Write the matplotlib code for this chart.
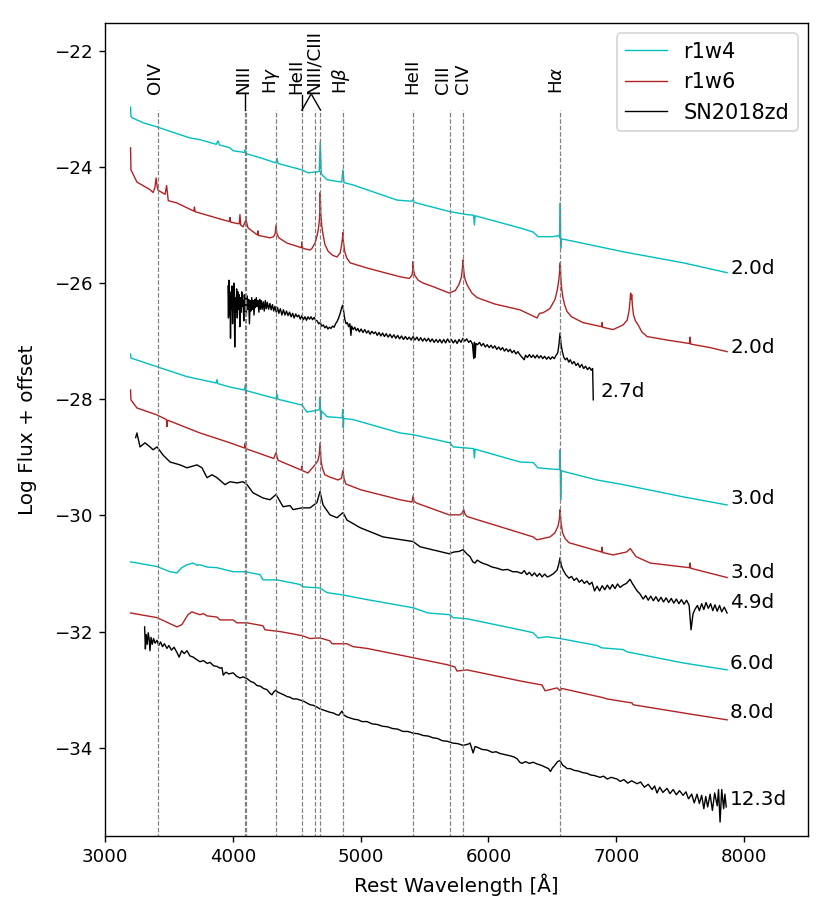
import matplotlib
matplotlib.use('Agg')
import matplotlib.pyplot as plt

# r1w4 model, 2.0 d
wl_r1w4_2d = [3200, 3203, 3210, 3300, 3407, 3500, 3665, 3743, 3870, 3884, 3895, 3978, 4002, 4090, 4097, 4104,
              4213, 4338, 4346, 4354, 4541, 4588, 4676, 4684, 4692, 4737, 4852, 4861, 4870, 4941, 5285, 5400,
              5410, 5420, 5700, 5833, 5884, 5890, 5896, 6247, 6349, 6388, 6505, 6550, 6558, 6562, 6565, 6570,
              6600, 7053, 7523, 7867]
fl_r1w4_2d = [-22.97, -23.13, -23.15, -23.24, -23.31, -23.38, -23.50, -23.53, -23.61, -23.55, -23.62, -23.67, -23.72, -23.75, -23.70, -23.77,
              -23.84, -23.93, -23.85, -23.94, -24.05, -24.10, -24.08, -23.57, -24.12, -24.22, -24.26, -24.05, -24.27, -24.31, -24.57, -24.59,
              -24.56, -24.61, -24.77, -24.82, -24.83, -25.00, -24.84, -25.05, -25.12, -25.20, -25.20, -25.18, -25.22, -24.62, -25.40, -25.24,
              -25.25, -25.46, -25.65, -25.82]

# r1w6 model, 2.0 d
wl_r1w6_2d = [3200, 3203, 3250, 3352, 3376, 3390, 3400, 3408, 3415, 3470, 3482, 3495, 3563, 3695, 3700, 3705,
              3876, 3973, 3978, 3983, 4050, 4056, 4062, 4080, 4103, 4119, 4192, 4197, 4202, 4291, 4320, 4332,
              4338, 4344, 4360, 4424, 4536, 4541, 4546, 4604, 4620, 4643, 4655, 4667, 4676, 4681, 4684, 4688,
              4695, 4705, 4720, 4745, 4780, 4815, 4840, 4853, 4859, 4862, 4866, 4875, 4890, 4917, 5050, 5308,
              5380, 5402, 5407, 5410, 5414, 5425, 5450, 5490, 5566, 5692, 5740, 5770, 5788, 5796, 5801, 5806,
              5815, 5833, 5870, 5911, 6050, 6247, 6380, 6400, 6427, 6480, 6521, 6540, 6552, 6558, 6562, 6566,
              6572, 6582, 6595, 6615, 6650, 6740, 6884, 6889, 6894, 6975, 7053, 7085, 7100, 7108, 7112, 7116,
              7121, 7126, 7135, 7150, 7171, 7200, 7241, 7397, 7572, 7577, 7582, 7734, 7867]
fl_r1w6_2d = [-23.67, -24.05, -24.26, -24.39, -24.44, -24.36, -24.19, -24.33, -24.40, -24.47, -24.32, -24.58, -24.62, -24.76, -24.69, -24.77,
              -24.88, -24.94, -24.87, -24.95, -24.98, -24.82, -25.00, -25.03, -24.91, -25.05, -25.17, -25.10, -25.18, -25.22, -25.20, -25.14,
              -25.00, -25.14, -25.22, -25.31, -25.39, -25.29, -25.40, -25.43, -25.40, -25.31, -25.22, -25.10, -24.95, -24.75, -24.44, -24.80,
              -25.00, -25.15, -25.33, -25.45, -25.52, -25.55, -25.48, -25.32, -25.20, -25.13, -25.30, -25.45, -25.56, -25.65, -25.74, -25.89,
              -25.92, -25.86, -25.78, -25.63, -25.78, -25.87, -25.95, -26.00, -26.06, -26.17, -26.13, -26.02, -25.90, -25.75, -25.60, -25.78,
              -25.92, -26.03, -26.17, -26.25, -26.36, -26.46, -26.60, -26.52, -26.51, -26.44, -26.28, -26.10, -25.92, -25.75, -25.65, -25.90,
              -26.08, -26.24, -26.37, -26.49, -26.58, -26.68, -26.75, -26.68, -26.76, -26.80, -26.72, -26.64, -26.48, -26.30, -26.17, -26.28,
              -26.20, -26.38, -26.55, -26.65, -26.72, -26.84, -26.92, -26.98, -27.04, -26.93, -27.05, -27.11, -27.18]

# SN2018zd, 2.7 d
wl_zd_27 = [3962, 3966, 3970, 3974, 3978, 3982, 3986, 3990, 3994, 3998, 4002, 4006, 4010, 4015, 4020, 4025,
            4030, 4035, 4040, 4046, 4050, 4055, 4060, 4066, 4070, 4076, 4080, 4086, 4090, 4096, 4100, 4106,
            4112, 4118, 4124, 4130, 4136, 4142, 4148, 4154, 4160, 4166, 4172, 4178, 4184, 4190, 4196, 4204,
            4210, 4216, 4222, 4230, 4238, 4246, 4254, 4262, 4270, 4280, 4290, 4300, 4310, 4320, 4330, 4340,
            4350, 4360, 4372, 4384, 4396, 4408, 4420, 4432, 4444, 4456, 4468, 4480, 4492, 4504, 4516, 4528,
            4540, 4552, 4564, 4576, 4588, 4600, 4612, 4624, 4636, 4648, 4660, 4672, 4684, 4696, 4708, 4720,
            4732, 4744, 4756, 4768, 4780, 4792, 4804, 4816, 4828, 4840, 4852, 4860, 4868, 4876, 4886, 4896,
            4906, 4916, 4924, 4930, 4942, 4954, 4966, 4978, 4990, 5004, 5018, 5032, 5046, 5060, 5074, 5088,
            5102, 5116, 5130, 5144, 5158, 5172, 5186, 5200, 5215, 5230, 5245, 5260, 5275, 5290, 5305, 5320,
            5335, 5350, 5365, 5380, 5395, 5410, 5425, 5440, 5455, 5470, 5485, 5500, 5515, 5530, 5545, 5560,
            5575, 5590, 5605, 5620, 5635, 5650, 5665, 5680, 5695, 5710, 5725, 5740, 5755, 5770, 5785, 5800,
            5815, 5830, 5845, 5860, 5875, 5885, 5890, 5896, 5902, 5915, 5930, 5945, 5960, 5975, 5990, 6005,
            6020, 6035, 6050, 6065, 6080, 6095, 6110, 6125, 6140, 6155, 6170, 6185, 6200, 6215, 6230, 6245,
            6260, 6280, 6290, 6305, 6320, 6335, 6350, 6365, 6380, 6395, 6410, 6425, 6440, 6455, 6470, 6485,
            6500, 6515, 6530, 6542, 6552, 6560, 6568, 6578, 6590, 6602, 6615, 6628, 6640, 6655, 6670, 6685,
            6700, 6715, 6730, 6745, 6760, 6775, 6790, 6805, 6815, 6820]
fl_zd_27 = [-26.05, -26.60, -25.95, -26.55, -26.20, -26.95, -26.15, -26.45, -26.05, -26.70, -26.20, -26.40, -26.00, -27.10, -26.25, -26.50,
            -26.10, -26.60, -26.15, -26.45, -26.20, -26.75, -26.25, -26.50, -26.15, -26.40, -26.30, -26.65, -26.20, -26.48, -26.25, -26.55,
            -26.22, -26.45, -26.28, -26.70, -26.30, -26.48, -26.25, -26.45, -26.30, -26.55, -26.28, -26.42, -26.25, -26.40, -26.30, -26.50,
            -26.28, -26.45, -26.30, -26.45, -26.32, -26.48, -26.30, -26.44, -26.33, -26.45, -26.35, -26.46, -26.37, -26.48, -26.40, -26.50,
            -26.42, -26.52, -26.44, -26.55, -26.46, -26.55, -26.48, -26.56, -26.50, -26.58, -26.52, -26.60, -26.53, -26.58, -26.55, -26.62,
            -26.56, -26.63, -26.58, -26.64, -26.58, -26.62, -26.58, -26.63, -26.59, -26.64, -26.65, -26.70, -26.68, -26.74, -26.72, -26.77,
            -26.74, -26.79, -26.76, -26.78, -26.74, -26.76, -26.70, -26.66, -26.60, -26.52, -26.42, -26.38, -26.50, -26.62, -26.70, -26.68,
            -26.75, -26.70, -26.90, -26.74, -26.80, -26.76, -26.82, -26.78, -26.84, -26.79, -26.85, -26.80, -26.86, -26.82, -26.88, -26.83,
            -26.87, -26.84, -26.90, -26.85, -26.91, -26.86, -26.92, -26.87, -26.93, -26.88, -26.94, -26.89, -26.95, -26.90, -26.96, -26.91,
            -26.97, -26.92, -26.97, -26.93, -26.98, -26.92, -26.98, -26.93, -26.99, -26.94, -27.00, -26.95, -27.00, -26.95, -27.01, -26.96,
            -27.02, -26.97, -27.02, -26.97, -27.03, -26.97, -27.03, -26.96, -27.02, -26.97, -27.03, -26.98, -27.04, -26.97, -27.02, -26.95,
            -27.00, -26.96, -27.02, -26.99, -27.05, -27.30, -27.02, -27.28, -27.04, -27.06, -27.02, -27.08, -27.04, -27.10, -27.06, -27.11,
            -27.07, -27.12, -27.08, -27.14, -27.10, -27.15, -27.11, -27.17, -27.13, -27.18, -27.14, -27.20, -27.16, -27.22, -27.18, -27.23,
            -27.27, -27.32, -27.24, -27.28, -27.23, -27.28, -27.24, -27.29, -27.24, -27.29, -27.25, -27.30, -27.26, -27.31, -27.27, -27.31,
            -27.27, -27.30, -27.24, -27.20, -27.05, -26.86, -27.05, -27.18, -27.28, -27.32, -27.29, -27.36, -27.32, -27.39, -27.35, -27.42,
            -27.38, -27.45, -27.40, -27.47, -27.43, -27.49, -27.45, -27.50, -27.47, -28.01]

# r1w4 model, 3.0 d
wl_r1w4_3d = [3200, 3203, 3407, 3640, 3870, 3876, 3882, 3978, 4090, 4097, 4104, 4338, 4346, 4354, 4541, 4580,
              4678, 4683, 4688, 4692, 4737, 4855, 4860, 4864, 4868, 4941, 5308, 5410, 5700, 5723, 5833, 5884,
              5890, 5896, 6247, 6349, 6388, 6482, 6556, 6561, 6565, 6570, 6600, 6850, 7053, 7523, 7867]
fl_r1w4_3d = [-27.22, -27.29, -27.44, -27.61, -27.72, -27.66, -27.73, -27.79, -27.84, -27.76, -27.85, -27.99, -27.91, -28.00, -28.10, -28.22,
              -28.18, -27.96, -28.35, -28.20, -28.30, -28.32, -28.18, -28.49, -28.33, -28.35, -28.58, -28.61, -28.75, -28.82, -28.84, -28.85,
              -29.01, -28.86, -29.08, -29.09, -29.18, -29.20, -29.21, -28.87, -29.73, -29.23, -29.25, -29.39, -29.47, -29.68, -29.82]

# r1w6 model, 3.0 d
wl_r1w6_3d = [3200, 3203, 3250, 3407, 3480, 3485, 3490, 3743, 3978, 4092, 4097, 4102, 4320, 4338, 4354, 4536,
              4541, 4546, 4588, 4643, 4665, 4676, 4683, 4690, 4700, 4720, 4760, 4823, 4850, 4862, 4870, 4885,
              5003, 5308, 5402, 5410, 5418, 5441, 5692, 5778, 5795, 5806, 5815, 5833, 6247, 6349, 6380, 6482,
              6520, 6545, 6555, 6561, 6567, 6580, 6600, 6630, 6884, 6889, 6894, 6975, 7080, 7110, 7125, 7155,
              7265, 7572, 7577, 7582, 7867]
fl_r1w6_3d = [-27.84, -28.01, -28.15, -28.27, -28.35, -28.47, -28.36, -28.58, -28.75, -28.84, -28.76, -28.85, -29.02, -28.92, -29.05, -29.22,
              -29.15, -29.23, -29.27, -29.13, -29.06, -28.96, -28.75, -29.05, -29.18, -29.30, -29.34, -29.39, -29.36, -29.22, -29.37, -29.46,
              -29.56, -29.73, -29.77, -29.66, -29.76, -29.79, -29.99, -29.99, -29.96, -29.90, -29.97, -30.02, -30.30, -30.37, -30.42, -30.37,
              -30.30, -30.18, -30.06, -29.90, -30.12, -30.30, -30.40, -30.47, -30.63, -30.55, -30.64, -30.68, -30.63, -30.57, -30.62, -30.71,
              -30.82, -30.90, -30.82, -30.91, -31.07]

# SN2018zd, 4.9 d
wl_zd_49 = [3240, 3250, 3274, 3313, 3352, 3376, 3407, 3454, 3509, 3587, 3641, 3720, 3759, 3798, 3837, 3876,
            3939, 3978, 4033, 4080, 4111, 4158, 4236, 4291, 4338, 4393, 4447, 4471, 4541, 4604, 4658, 4682,
            4706, 4760, 4815, 4862, 4893, 4995, 5175, 5410, 5465, 5692, 5730, 5770, 5801, 5830, 5856, 5878,
            5895, 5911, 5950, 5990, 6030, 6070, 6110, 6150, 6190, 6224, 6260, 6280, 6300, 6320, 6340, 6360,
            6380, 6400, 6420, 6440, 6460, 6482, 6510, 6537, 6550, 6560, 6570, 6584, 6605, 6630, 6650, 6670,
            6690, 6710, 6730, 6750, 6770, 6790, 6810, 6830, 6850, 6870, 6890, 6910, 6930, 6950, 6970, 6990,
            7010, 7030, 7053, 7080, 7108, 7125, 7140, 7163, 7185, 7210, 7230, 7250, 7270, 7290, 7310, 7330,
            7350, 7370, 7390, 7410, 7430, 7450, 7470, 7490, 7510, 7530, 7550, 7570, 7585, 7600, 7615, 7635,
            7650, 7668, 7685, 7702, 7720, 7738, 7755, 7772, 7790, 7808, 7825, 7845, 7867]
fl_zd_49 = [-28.66, -28.58, -28.82, -28.75, -28.82, -28.87, -28.82, -28.96, -29.08, -29.13, -29.18, -29.13, -29.18, -29.35, -29.30, -29.35,
            -29.47, -29.42, -29.44, -29.42, -29.47, -29.61, -29.70, -29.73, -29.64, -29.85, -29.83, -29.90, -29.87, -29.87, -29.78, -29.59,
            -29.82, -29.99, -30.04, -29.95, -30.08, -30.21, -30.37, -30.45, -30.54, -30.66, -30.63, -30.62, -30.59, -30.66, -30.71, -30.80,
            -30.82, -30.77, -30.82, -30.85, -30.89, -30.91, -30.94, -30.93, -30.97, -30.97, -31.00, -30.95, -31.02, -30.98, -31.04, -30.99,
            -31.05, -31.00, -31.06, -31.01, -31.06, -31.04, -31.00, -30.94, -30.84, -30.73, -30.86, -30.94, -31.02, -31.08, -31.05, -31.12,
            -31.08, -31.15, -31.11, -31.17, -31.13, -31.19, -31.15, -31.30, -31.22, -31.30, -31.21, -31.28, -31.20, -31.27, -31.19, -31.26,
            -31.18, -31.24, -31.20, -31.17, -31.10, -31.17, -31.22, -31.30, -31.35, -31.44, -31.38, -31.46, -31.39, -31.47, -31.40, -31.48,
            -31.41, -31.49, -31.42, -31.50, -31.43, -31.51, -31.44, -31.52, -31.45, -31.53, -31.46, -31.55, -31.97, -31.70, -31.62, -31.55,
            -31.64, -31.52, -31.62, -31.50, -31.60, -31.52, -31.64, -31.54, -31.65, -31.55, -31.66, -31.58, -31.68]

# r1w4 model, 6.0 d
wl_r1w4_6d = [3200, 3407, 3509, 3563, 3600, 3641, 3690, 3720, 3743, 3800, 3876, 4002, 4097, 4213, 4236, 4346,
              4526, 4549, 4682, 4737, 4862, 5050, 5410, 5527, 5700, 5723, 5833, 6247, 6349, 6388, 6458, 6560,
              6850, 6885, 7053, 7085, 7523, 7867]
fl_r1w4_6d = [-30.80, -30.88, -30.97, -30.99, -30.90, -30.85, -30.82, -30.86, -30.85, -30.89, -30.90, -30.97, -30.97, -31.02, -31.11, -31.11,
              -31.19, -31.23, -31.25, -31.33, -31.37, -31.45, -31.59, -31.68, -31.71, -31.76, -31.78, -31.97, -32.02, -32.11, -32.09, -32.12,
              -32.24, -32.28, -32.31, -32.35, -32.54, -32.66]

# r1w6 model, 8.0 d
wl_r1w6_8d = [3200, 3407, 3563, 3602, 3649, 3680, 3704, 3743, 3770, 3798, 3876, 3900, 4002, 4033, 4111, 4236,
              4252, 4369, 4541, 4604, 4682, 4760, 4776, 4893, 4941, 5050, 5410, 5676, 5738, 5754, 5833, 6247,
              6419, 6443, 6537, 6560, 6575, 6900, 6928, 7124, 7131, 7577, 7867]
fl_r1w6_8d = [-31.68, -31.76, -31.92, -31.88, -31.71, -31.66, -31.68, -31.71, -31.69, -31.73, -31.75, -31.80, -31.80, -31.85, -31.85, -31.90,
              -31.97, -32.00, -32.07, -32.12, -32.11, -32.16, -32.21, -32.21, -32.26, -32.29, -32.45, -32.57, -32.61, -32.68, -32.66, -32.85,
              -32.92, -33.02, -32.97, -33.02, -32.98, -33.14, -33.16, -33.23, -33.26, -33.42, -33.52]

# SN2018zd, 12.3 d
wl_zd_123 = [3310, 3316, 3322, 3330, 3338, 3345, 3352, 3360, 3370, 3380, 3392, 3407, 3420, 3435, 3450, 3465,
             3485, 3500, 3520, 3540, 3563, 3580, 3600, 3620, 3641, 3665, 3690, 3715, 3743, 3770, 3800, 3822,
             3850, 3876, 3900, 3915, 3925, 3945, 3970, 4002, 4030, 4056, 4080, 4111, 4140, 4165, 4189, 4215,
             4240, 4267, 4290, 4306, 4320, 4335, 4350, 4369, 4400, 4425, 4447, 4470, 4500, 4526, 4555, 4580,
             4604, 4630, 4658, 4680, 4706, 4730, 4760, 4784, 4810, 4830, 4854, 4870, 4893, 4920, 4950, 4980,
             5010, 5050, 5090, 5130, 5170, 5210, 5250, 5290, 5330, 5370, 5410, 5450, 5490, 5530, 5566, 5600,
             5640, 5680, 5720, 5760, 5801, 5840, 5856, 5880, 5895, 5911, 5950, 5990, 6030, 6060, 6091, 6130,
             6170, 6200, 6224, 6245, 6263, 6290, 6320, 6350, 6380, 6410, 6440, 6470, 6485, 6500, 6520, 6540,
             6560, 6580, 6600, 6615, 6640, 6670, 6700, 6740, 6770, 6800, 6830, 6873, 6900, 6930, 6960, 7006,
             7030, 7060, 7090, 7120, 7163, 7190, 7220, 7250, 7280, 7300, 7319, 7340, 7365, 7397, 7420, 7445,
             7470, 7495, 7523, 7545, 7565, 7590, 7610, 7632, 7650, 7668, 7685, 7700, 7715, 7734, 7752, 7770,
             7790, 7800, 7812, 7825, 7840, 7850, 7860]
fl_zd_123 = [-31.92, -32.30, -32.05, -32.22, -32.02, -32.12, -32.33, -32.10, -32.22, -32.12, -32.20, -32.15, -32.24, -32.18, -32.26, -32.21,
             -32.29, -32.24, -32.32, -32.27, -32.36, -32.44, -32.33, -32.38, -32.33, -32.42, -32.44, -32.48, -32.52, -32.50, -32.55, -32.53,
             -32.59, -32.60, -32.63, -32.62, -32.75, -32.70, -32.73, -32.71, -32.77, -32.80, -32.78, -32.81, -32.86, -32.88, -32.93, -32.94,
             -32.98, -33.00, -33.06, -33.09, -33.04, -33.01, -33.04, -33.06, -33.09, -33.12, -33.13, -33.16, -33.16, -33.18, -33.20, -33.23,
             -33.26, -33.27, -33.30, -33.33, -33.35, -33.37, -33.39, -33.40, -33.43, -33.44, -33.37, -33.44, -33.47, -33.49, -33.51, -33.52,
             -33.55, -33.55, -33.59, -33.60, -33.63, -33.64, -33.67, -33.68, -33.72, -33.72, -33.75, -33.76, -33.79, -33.80, -33.83, -33.84,
             -33.88, -33.89, -33.92, -33.93, -33.96, -33.94, -33.92, -34.09, -33.98, -33.99, -34.03, -34.04, -34.08, -34.07, -34.10, -34.12,
             -34.14, -34.16, -34.19, -34.25, -34.27, -34.24, -34.27, -34.25, -34.28, -34.30, -34.33, -34.36, -34.41, -34.35, -34.30, -34.24,
             -34.22, -34.30, -34.33, -34.36, -34.36, -34.39, -34.40, -34.43, -34.44, -34.47, -34.48, -34.51, -34.49, -34.54, -34.51, -34.54,
             -34.58, -34.55, -34.61, -34.57, -34.62, -34.59, -34.68, -34.63, -34.72, -34.66, -34.78, -34.68, -34.77, -34.70, -34.79, -34.72,
             -34.81, -34.74, -34.82, -34.76, -34.88, -34.80, -34.95, -34.80, -34.96, -34.82, -35.05, -34.84, -35.02, -34.80, -35.08, -34.78,
             -35.00, -34.72, -35.28, -34.72, -35.05, -34.80, -35.02]

# line identifications
line_wl = [3411, 4097, 4103, 4340, 4541, 4640, 4686, 4861, 5411, 5696, 5801, 6563]
label_names = ['OIV', 'NIII', r'H$\gamma$', 'HeII', 'NIII/CIII', r'H$\beta$', 'HeII', 'CIII', 'CIV', r'H$\alpha$']
label_wl = [3391, 4082, 4304, 4500, 4630, 4844, 5400, 5647, 5804, 6535]

# epoch labels
epoch_names = ['2.0d', '2.0d', '2.7d', '3.0d', '3.0d', '4.9d', '6.0d', '8.0d', '12.3d']
epoch_x = [7890, 7890, 6873, 7890, 7890, 7890, 7890, 7890, 7890]
epoch_y = [-25.74, -27.10, -27.87, -29.71, -30.99, -31.50, -32.55, -33.40, -34.90]

fig = plt.figure(figsize=(6.64, 7.376), dpi=125)
ax = fig.add_axes([0.1265, 0.0933, 0.847, 0.8818])

lw = 0.8
ax.plot(wl_r1w4_2d, fl_r1w4_2d, color='c', lw=lw, label='r1w4')
ax.plot(wl_r1w6_2d, fl_r1w6_2d, color='firebrick', lw=lw, label='r1w6')
ax.plot(wl_zd_27, fl_zd_27, color='k', lw=lw, label='SN2018zd')
ax.plot(wl_r1w4_3d, fl_r1w4_3d, color='c', lw=lw)
ax.plot(wl_r1w6_3d, fl_r1w6_3d, color='firebrick', lw=lw)
ax.plot(wl_zd_49, fl_zd_49, color='k', lw=lw)
ax.plot(wl_r1w4_6d, fl_r1w4_6d, color='c', lw=lw)
ax.plot(wl_r1w6_8d, fl_r1w6_8d, color='firebrick', lw=lw)
ax.plot(wl_zd_123, fl_zd_123, color='k', lw=lw)

# dashed line markers
ax.vlines(line_wl, -36, -23.02, colors='gray', linestyles='dashed', lw=0.7)
for name, x in zip(label_names, label_wl):
    ax.text(x, -22.75, name, rotation=90, ha='center', va='bottom', fontsize=10.5, clip_on=False)

# connectors from labels to lines
ax.plot([4097, 4097], [-22.73, -23.02], color='k', lw=0.8, clip_on=False)
ax.plot([4541, 4541], [-22.76, -23.02], color='k', lw=0.8, clip_on=False)
ax.plot([4541, 4608], [-23.02, -22.76], color='k', lw=0.8, clip_on=False)
ax.plot([4618, 4686], [-22.76, -23.02], color='k', lw=0.8, clip_on=False)

for name, x, y in zip(epoch_names, epoch_x, epoch_y):
    ax.text(x, y, name, ha='left', va='center', fontsize=11.5)

ax.set_xlim(3000, 8500)
ax.set_ylim(-35.52, -21.52)
ax.set_xticks([3000, 4000, 5000, 6000, 7000, 8000])
ax.set_yticks([-34, -32, -30, -28, -26, -24, -22])
ax.tick_params(labelsize=10.5)
ax.set_xlabel('Rest Wavelength [Å]', fontsize=11.5)
ax.set_ylabel('Log Flux + offset', fontsize=11.5, labelpad=10)
ax.legend(loc='upper right', fontsize=12)

fig.savefig('out.png', dpi=125)
